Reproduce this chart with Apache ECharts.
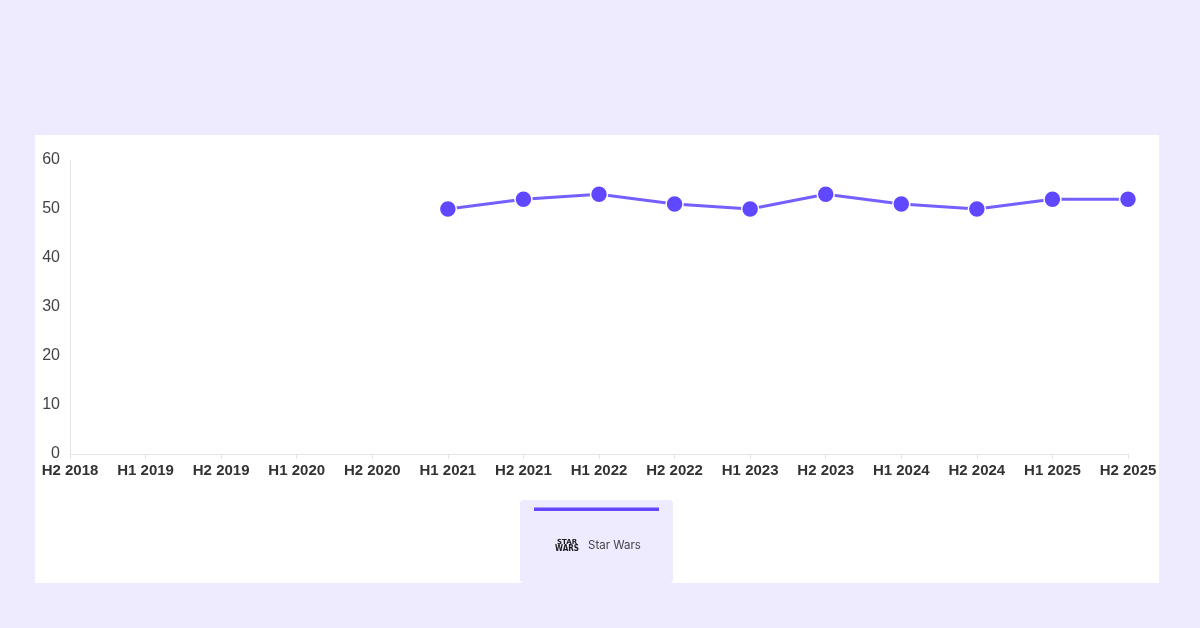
<!DOCTYPE html>
<html><head><meta charset="utf-8">
<script src="https://cdn.jsdelivr.net/npm/echarts@6/dist/echarts.min.js"></script>
<style>html,body{margin:0;padding:0;background:#eeeaff;}#c{width:1200px;height:628px;}</style>
</head><body><div id="c"></div>
<script>
const categories = ["H2 2018","H1 2019","H2 2019","H1 2020","H2 2020","H1 2021","H2 2021","H1 2022","H2 2022","H1 2023","H2 2023","H1 2024","H2 2024","H1 2025","H2 2025"];
const starWars = [null,null,null,null,null,50,52,53,51,50,53,51,50,52,52];
const yTicks = {min:0,max:60,interval:10};
const seriesName = "Star Wars";

const chart = echarts.init(document.getElementById('c'));
chart.setOption({
  backgroundColor:'#eeeaff',
  animation:false,
  graphic:[
    {type:'rect',z:-10,shape:{x:35,y:135,width:1124,height:448},style:{fill:'#ffffff'}},
    {type:'rect',z:1,shape:{x:520,y:500,width:153,height:83,r:4},style:{fill:'#eeeaff'}},
    {type:'rect',z:2,shape:{x:534,y:507.5,width:125,height:3.5},style:{fill:'#6347ff'}},
    {type:'text',z:2,x:567,y:539,style:{text:'STAR',font:'900 7px "DejaVu Sans"',fill:'#1a1a1a',align:'center'}},
    {type:'text',z:2,x:567,y:545,style:{text:'WARS',font:'900 8px "DejaVu Sans Condensed", "DejaVu Sans"',fill:'#1a1a1a',align:'center'}},
    {type:'text',z:2,x:588,y:540,style:{text:seriesName,font:'11.5px "Inter"',fill:'#444'}}
  ],
  grid:{left:70,right:72,top:160,bottom:174,containLabel:false},
  xAxis:{type:'category',data:categories,boundaryGap:false,
    axisLine:{lineStyle:{color:'#e4e4e4'}},
    axisTick:{show:true,length:5,lineStyle:{color:'#e4e4e4'}},
    axisLabel:{color:'#333',fontSize:15,fontWeight:'bold',fontFamily:'"Liberation Sans", Arial',margin:9,interval:0},
    splitLine:{show:false}},
  yAxis:{type:'value',min:yTicks.min,max:yTicks.max,interval:yTicks.interval,
    axisLine:{show:true,lineStyle:{color:'#e4e4e4'}},
    axisTick:{show:false},
    splitLine:{show:false},
    axisLabel:{color:'#444',fontSize:16,fontFamily:'"Liberation Sans", Arial',margin:10,verticalAlign:'middle',padding:[0,0,10,0]}},
  series:[{name:seriesName,type:'line',data:starWars,connectNulls:false,
    lineStyle:{color:'#7560ff',width:3},
    itemStyle:{color:'#5f48ff',borderColor:'#ffffff',borderWidth:1.5},
    symbol:'circle',symbolSize:17,showSymbol:true}]
});
</script></body></html>
